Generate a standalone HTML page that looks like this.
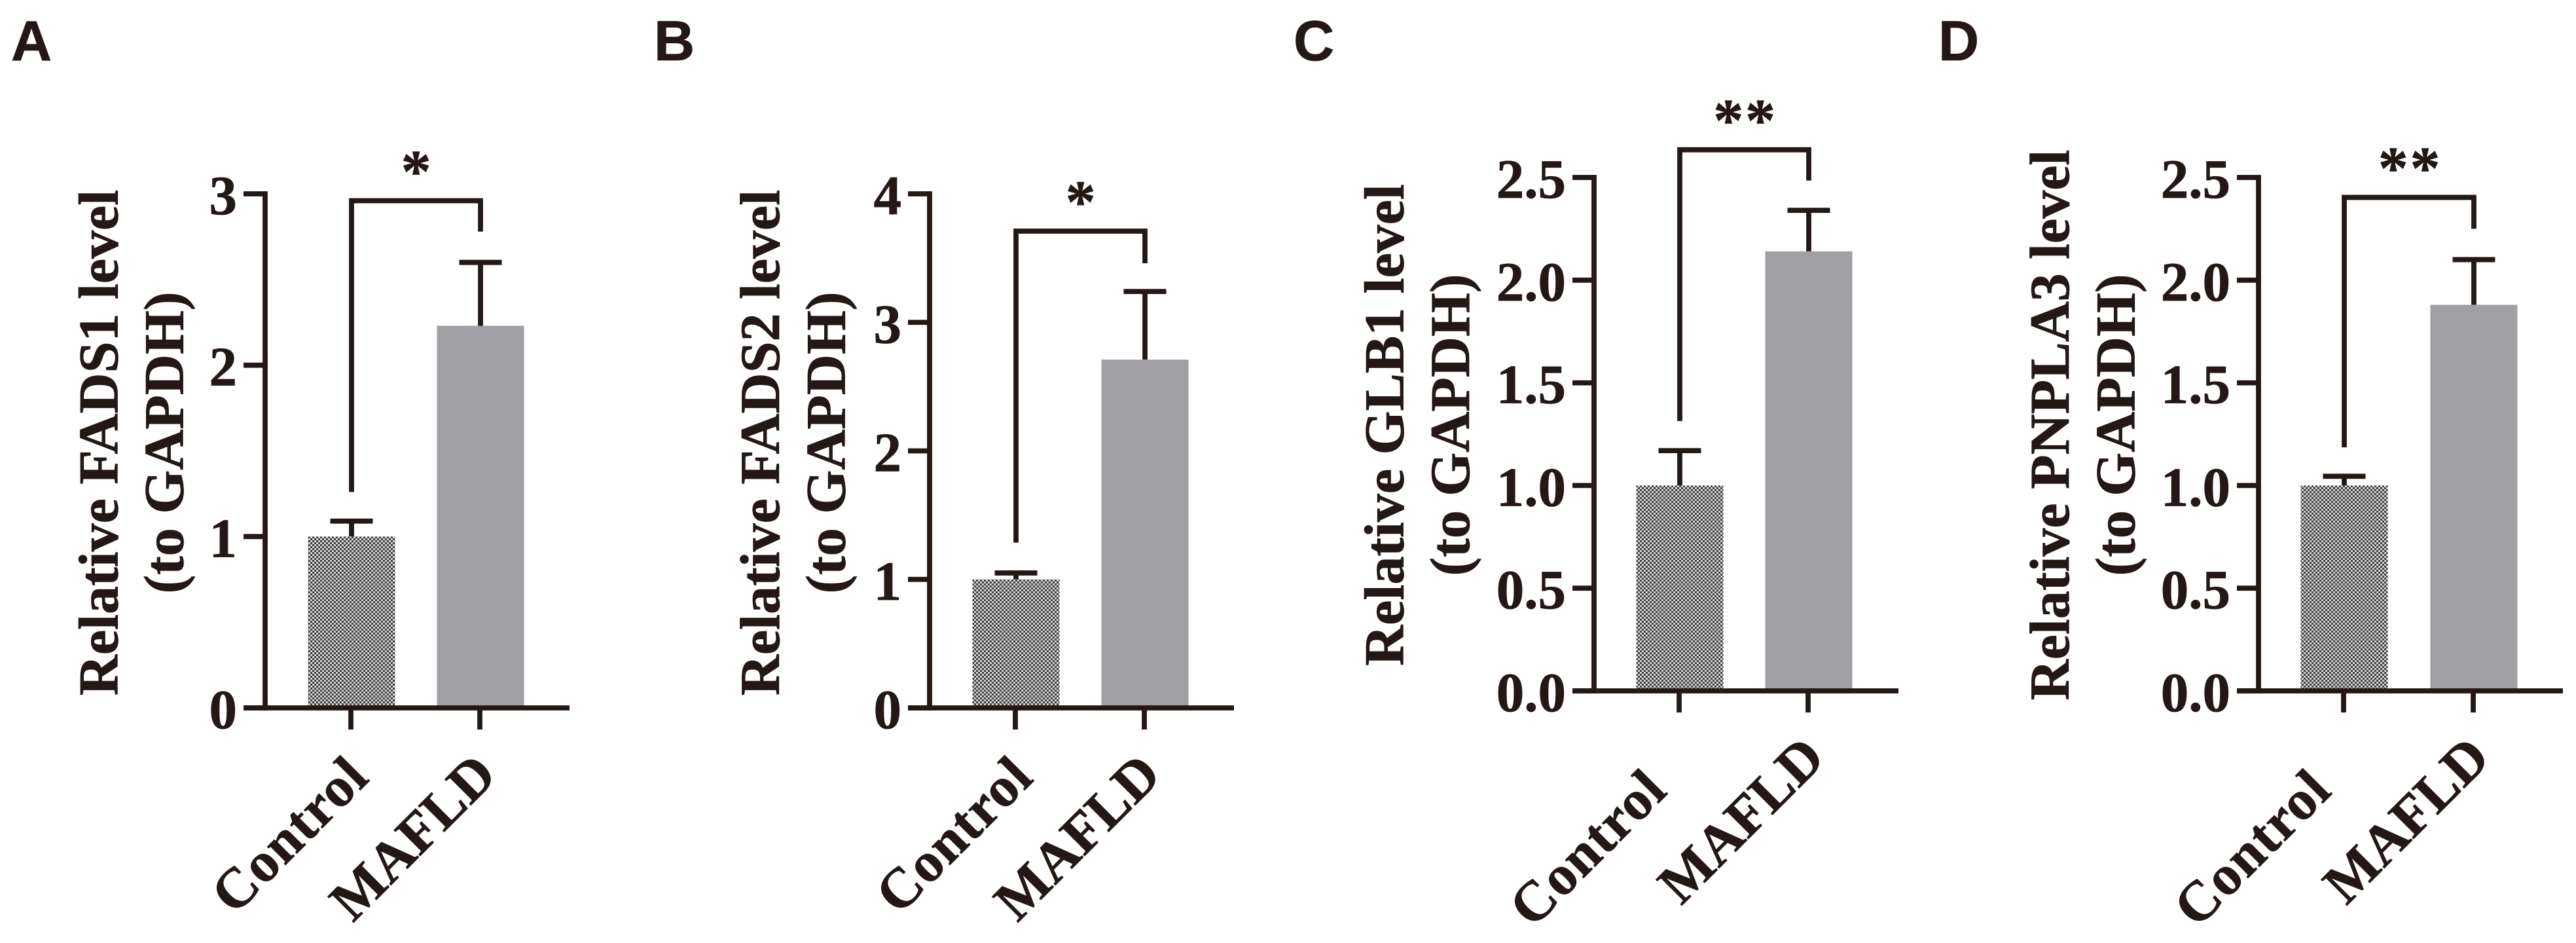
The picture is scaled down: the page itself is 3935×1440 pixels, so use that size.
<!DOCTYPE html>
<html lang="en">
<head>
<meta charset="utf-8">
<title>Relative expression levels: Control vs MAFLD</title>
<style>
html,body{margin:0;padding:0;background:#fff;width:3935px;height:1440px;overflow:hidden}
svg{display:block}
text{font-family:"Liberation Serif","Times New Roman",serif;font-weight:bold;fill:#231815;stroke:#231815;stroke-width:0.8}
.panel-letter{font-family:"Liberation Sans",Arial,sans-serif}
</style>
</head>
<body>
<svg id="figure" xmlns="http://www.w3.org/2000/svg" width="3935" height="1440" viewBox="0 0 3935 1440">
  <defs>
    <pattern id="dither" width="6" height="6" patternUnits="userSpaceOnUse">
      <rect width="6" height="6" fill="#d4d4d4"/>
      <rect width="3" height="3" fill="#404040"/>
      <rect x="3" y="3" width="3" height="3" fill="#404040"/>
    </pattern>
  </defs>
</svg>
<script>
const categories = ['Control', 'MAFLD'];
const panelLetters = ['A', 'B', 'C', 'D'];
const genes = ['FADS1', 'FADS2', 'GLB1', 'PNPLA3'];
const titleLine2 = '(to GAPDH)';
const tickLabelsA = ['0', '1', '2', '3'];
const tickLabelsB = ['0', '1', '2', '3', '4'];
const tickLabelsC = ['0.0', '0.5', '1.0', '1.5', '2.0', '2.5'];
const tickLabelsD = ['0.0', '0.5', '1.0', '1.5', '2.0', '2.5'];
const controlValues = [1.0, 1.0, 1.0, 1.0];
const mafldValues = [2.23, 2.71, 2.14, 1.88];
const controlErrorTops = [1.09, 1.05, 1.17, 1.045];
const mafldErrorTops = [2.60, 3.24, 2.34, 2.10];
const bracketTops = [2.96, 3.71, 2.635, 2.403];
const bracketLeftEnds = [1.26, 1.286, 1.314, 1.186];
const bracketRightEnds = [2.78, 3.46, 2.485, 2.25];
const significance = ['*', '*', '**', '**'];

/* Plot frames (layout, not data) */
const frames = [
  {axisX:405,  y0:1081, yTop:296, title1X:179.5, title2X:279.5, titleY:676, c1:537,  c2:734, controlShift:0},
  {axisX:1420, y0:1081, yTop:296, title1X:1190,  title2X:1290.5,titleY:676, c1:1552, c2:1749,controlShift:0},
  {axisX:2435, y0:1055, yTop:271, title1X:2143.5,title2X:2244,  titleY:649, c1:2566, c2:2763,controlShift:46},
  {axisX:3450, y0:1055, yTop:271, title1X:3160,  title2X:3260.5,titleY:649, c1:3581, c2:3779,controlShift:46}
];
const panelLetterPos = [[17,92],[999,92],[1976,92],[2961,92]];
const allTickLabels = [tickLabelsA, tickLabelsB, tickLabelsC, tickLabelsD];

const INK = '#231815';
const BAR_GREY = '#a0a0a4';
const BAR_W = 133;
const CAP_W = 65;
const LINE_W = 7.8;
const svg = document.getElementById('figure');
const NS = 'http://www.w3.org/2000/svg';

function make(tag, attrs, parent) {
  const el = document.createElementNS(NS, tag);
  for (const k in attrs) el.setAttribute(k, attrs[k]);
  parent.appendChild(el);
  return el;
}
function vLine(x, y1, y2, parent) {
  return make('line', {x1:x, x2:x, y1:y1, y2:y2, stroke:INK, 'stroke-width':LINE_W}, parent);
}
function hLine(x1, x2, y, parent) {
  return make('line', {x1:x1, x2:x2, y1:y, y2:y, stroke:INK, 'stroke-width':LINE_W}, parent);
}
function placedText(str, x, y, size, angle, anchor, parent) {
  const t = make('text', {
    transform:'translate(' + x + ',' + y + ') rotate(' + angle + ')',
    'font-size':size, 'text-anchor':anchor
  }, parent);
  t.textContent = str;
  return t;
}

panelLetters.forEach(function (letter, i) {
  const f = frames[i];
  const labels = allTickLabels[i];
  const yMax = parseFloat(labels[labels.length - 1]);
  const yScale = function (v) { return f.y0 - (v / yMax) * (f.y0 - f.yTop); };

  const g = make('g', {}, svg);
  
  

  const pl = placedText(letter, panelLetterPos[i][0], panelLetterPos[i][1], 86, 0, 'start', g);
  pl.setAttribute('class', 'panel-letter');
  
  

  /* bars */
  const centers = [f.c1, f.c2];
  const values = [controlValues[i], mafldValues[i]];
  const errTops = [controlErrorTops[i], mafldErrorTops[i]];
  categories.forEach(function (cat, j) {
    const top = yScale(values[j]);
    const errLine = vLine(centers[j], yScale(errTops[j]), top, g);
    
    
    const cap = hLine(centers[j] - CAP_W / 2, centers[j] + CAP_W / 2, yScale(errTops[j]), g);
    
    
    const bar = make('rect', {
      x:centers[j] - BAR_W / 2, y:top, width:BAR_W, height:f.y0 - top,
      fill:j === 0 ? 'url(#dither)' : BAR_GREY
    }, g);
    
    

    const xt = vLine(centers[j] - 1, f.y0, f.y0 + 33, g);
    
    

    const shift = j === 0 ? f.controlShift : 0;
    const xl = placedText(cat, centers[j] + (j === 0 ? 30 : 28) - shift, f.y0 + (j === 0 ? 109 : 106) + shift, 86, -45, 'end', g);
    if (j === 0) xl.setAttribute('letter-spacing', '1.5');
    
    
  });

  /* axes */
  const yAxis = vLine(f.axisX, f.yTop - LINE_W / 2, f.y0 + LINE_W / 2, g);
  
  
  const xAxis = hLine(f.axisX - 33, f.axisX + 465, f.y0, g);
  
  

  labels.forEach(function (lab) {
    const v = parseFloat(lab);
    const y = yScale(v);
    const tick = hLine(f.axisX - 33, f.axisX, y, g);
    
    
    const tl = placedText(lab, f.axisX - 43, y + 31, 85, 0, 'end', g);
    
    
  });

  /* axis title */
  const t1 = placedText('Relative ' + genes[i] + ' level', f.title1X, f.titleY, 86, -90, 'middle', g);
  
  
  const t2 = placedText(titleLine2, f.title2X, f.titleY, 86, -90, 'middle', g);
  
  

  /* significance bracket */
  const bx1 = f.c1, bx2 = f.c2;
  const bTop = yScale(bracketTops[i]);
  const br = make('path', {
    d:'M' + bx1 + ' ' + yScale(bracketLeftEnds[i]) + ' L' + bx1 + ' ' + bTop + ' L' + bx2 + ' ' + bTop + ' L' + bx2 + ' ' + yScale(bracketRightEnds[i]),
    fill:'none', stroke:INK, 'stroke-width':LINE_W
  }, g);
  
  
  const star = placedText(significance[i], (bx1 + bx2) / 2 + 1.5, bTop - 14, 92, 0, 'middle', g);
  star.setAttribute('letter-spacing', '2.7');
  
  
});
</script>
</body>
</html>
